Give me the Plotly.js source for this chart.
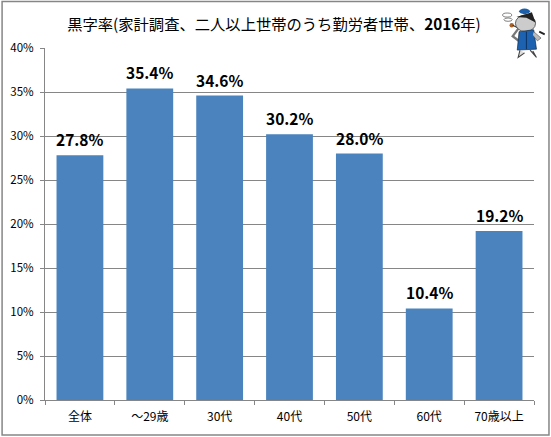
<!DOCTYPE html>
<html><head><meta charset="utf-8">
<script src="https://cdn.plot.ly/plotly-3.0.1.min.js"></script>
<style>html,body{margin:0;padding:0;background:#fff}</style></head>
<body><div id="c" style="width:551px;height:437px"></div>
<script>
const categories=["全体","～29歳","30代","40代","50代","60代","70歳以上"];
const values=[27.8,35.4,34.6,30.2,28.0,10.4,19.2];
const labels=["27.8%","35.4%","34.6%","30.2%","28.0%","10.4%","19.2%"];
const tickVals=[0,5,10,15,20,25,30,35,40];
const tickText=["0%","5%","10%","15%","20%","25%","30%","35%","40%"];
const titleText="黒字率(家計調査、二人以上世帯のうち勤労者世帯、<b>2016</b>年)";
const fontFam='"Noto Sans CJK JP","Noto Sans",sans-serif';
const mascot=`<svg xmlns="http://www.w3.org/2000/svg" viewBox="0 0 61 65">
<rect width="61" height="65" fill="#fff"/>
<g fill="none" stroke="#777" stroke-width="1"><ellipse cx="17" cy="13" rx="5" ry="2.2"/><ellipse cx="18" cy="18" rx="4.5" ry="1.8"/></g>
<path d="M29 28 L23 36 L31 42" fill="none" stroke="#777" stroke-width="2.5"/>
<circle cx="22" cy="24" r="2.4" fill="#a5622a"/><path d="M23 24 L31 28" stroke="#333" stroke-width="1.2"/>
<ellipse cx="37" cy="22" rx="11" ry="9" fill="#ccc" stroke="#333" stroke-width=".8"/>
<path d="M27 15 L44 10 L48 21 L38 16 Z" fill="#222"/>
<ellipse cx="36" cy="9" rx="6" ry="3" fill="#1d5fa8"/>
<path d="M30 31 L46 29 L49 50 L28 51 Z" fill="#1c62b0" stroke="#123" stroke-width=".7"/>
<path d="M38 31 L38 50" stroke="#0b2f5c" stroke-width="1"/>
<path d="M46 31 L54 38 L50 41 L45 35" fill="#bbb" stroke="#444" stroke-width=".6"/>
<path d="M52 31 L58 34" stroke="#222" stroke-width="2"/>
<path d="M31 51 L29 59 L36 54 M42 51 L49 59 L45 52" fill="#ddd" stroke="#444" stroke-width="1.2"/>
</svg>`;
const L=44.5,R=534.5,T=48,B=400.5,PW=R-L,PH=B-T;
Plotly.newPlot("c",[{
 type:"bar",x:categories,y:values,
 marker:{color:"#4a83bd",line:{width:0}},width:0.67,hoverinfo:"x+y"
}],{
 width:551,height:437,paper_bgcolor:"#fff",plot_bgcolor:"#fff",showlegend:false,
 margin:{l:L,r:551-R,t:T,b:437-B,pad:0},
 title:{text:titleText,font:{family:fontFam,size:15.3,color:"#000"},x:274/551,xanchor:"center",xref:"container",y:1-25/437,yanchor:"middle"},
 xaxis:{type:"category",range:[-0.5,6.5],tickfont:{family:fontFam,size:12,color:"#000"},
   showline:true,linecolor:"#868686",linewidth:1,ticks:"outside",ticklen:4,tickcolor:"#868686",showgrid:false,
   tickson:"boundaries",ticklabelstandoff:6,fixedrange:true},
 yaxis:{range:[0,40],tickvals:tickVals,ticktext:tickText,tickfont:{family:fontFam,size:11.5,color:"#000"},
   showline:true,linecolor:"#868686",linewidth:1,ticks:"outside",ticklen:4,tickcolor:"#868686",
   showgrid:true,gridcolor:"#868686",gridwidth:1,zeroline:false,ticklabelstandoff:4,fixedrange:true},
 annotations:categories.map((c,i)=>({x:c,y:values[i],text:"<b>"+labels[i]+"</b>",showarrow:false,yanchor:"bottom",yshift:3,
   font:{family:fontFam,size:15.5,color:"#000"}})),
 shapes:[{type:"rect",xref:"paper",yref:"paper",x0:(1.5-L)/PW,x1:(549.5-L)/PW,y0:(B-435.5)/PH,y1:(B-1.5)/PH,line:{color:"#868686",width:1.5},fillcolor:"rgba(0,0,0,0)"}],
 images:[{source:"data:image/svg+xml;base64,"+btoa(mascot),xref:"paper",yref:"paper",x:(492-L)/PW,y:(B-3)/PH,sizex:56/PW,sizey:60/PH,xanchor:"left",yanchor:"top",sizing:"stretch",layer:"above"}]
},{displayModeBar:false,staticPlot:true});
</script></body></html>
